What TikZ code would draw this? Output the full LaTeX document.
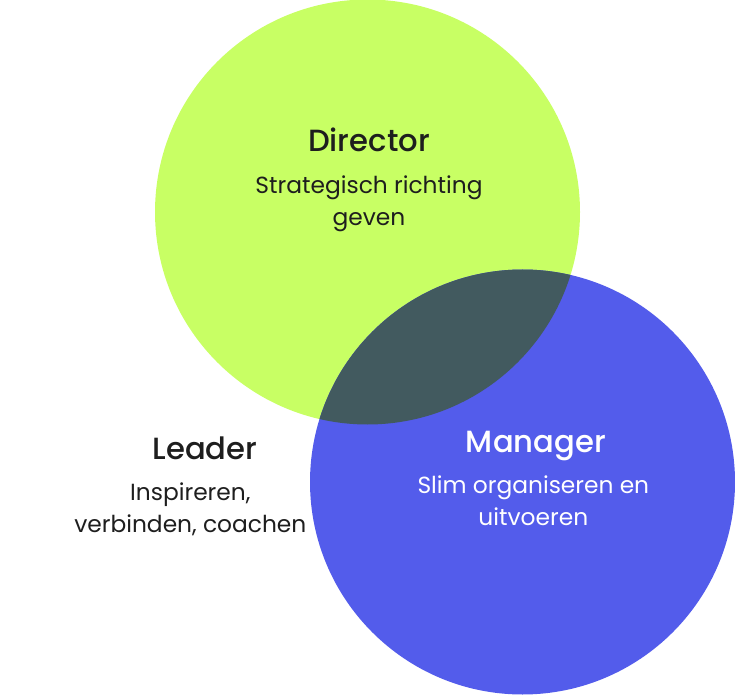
\documentclass[tikz,border=0pt]{standalone}
\usepackage{fontspec}
\setmainfont{Poppins}
\newfontfamily\titlefont{Poppins Medium}
\usepackage{tikz}
\usetikzlibrary{positioning}
\definecolor{rolegreen}{RGB}{200,255,100}
\definecolor{roleblue}{RGB}{83,92,235}
\definecolor{roleoverlap}{RGB}{66,90,95}
\definecolor{roleink}{RGB}{30,30,30}

\begin{document}
\begin{tikzpicture}[
  x=0.75pt, y=-0.75pt,
  ttl/.style={font=\titlefont\fontsize{23}{27}\selectfont,text=roleink,inner sep=0pt},
  dsc/.style={font=\fontsize{17.5}{24}\selectfont,text=roleink,align=center,inner sep=0pt},
  wht/.style={text=white}
]
\useasboundingbox (0,0) rectangle (735,695);
\coordinate (dirc) at (367.5,212);
\coordinate (manc) at (522.5,482);
% circles
\fill[rolegreen] (dirc) circle (212.5);
\fill[roleblue] (manc) circle (212.5);
\begin{scope}
  \clip (dirc) circle (212.5);
  \fill[roleoverlap] (manc) circle (212.5);
\end{scope}
% labels
\node[ttl] (dir) at (369,140) {Director};
\node[dsc,below=17.5pt of dir.base,anchor=north] (dirtxt) {Strategisch richting\\geven};
\node[ttl] (lead) at (205,448) {Leader};
\node[dsc,below=17.5pt of lead.base,anchor=north,xshift=-11pt] (leadtxt) {Inspireren,\\verbinden, coachen};
\node[ttl,wht] (man) at (536,446) {Manager};
\node[dsc,wht,below=17.5pt of man.base,anchor=north,xshift=-2pt] (mantxt) {Slim organiseren en\\uitvoeren};
\end{tikzpicture}
\end{document}
